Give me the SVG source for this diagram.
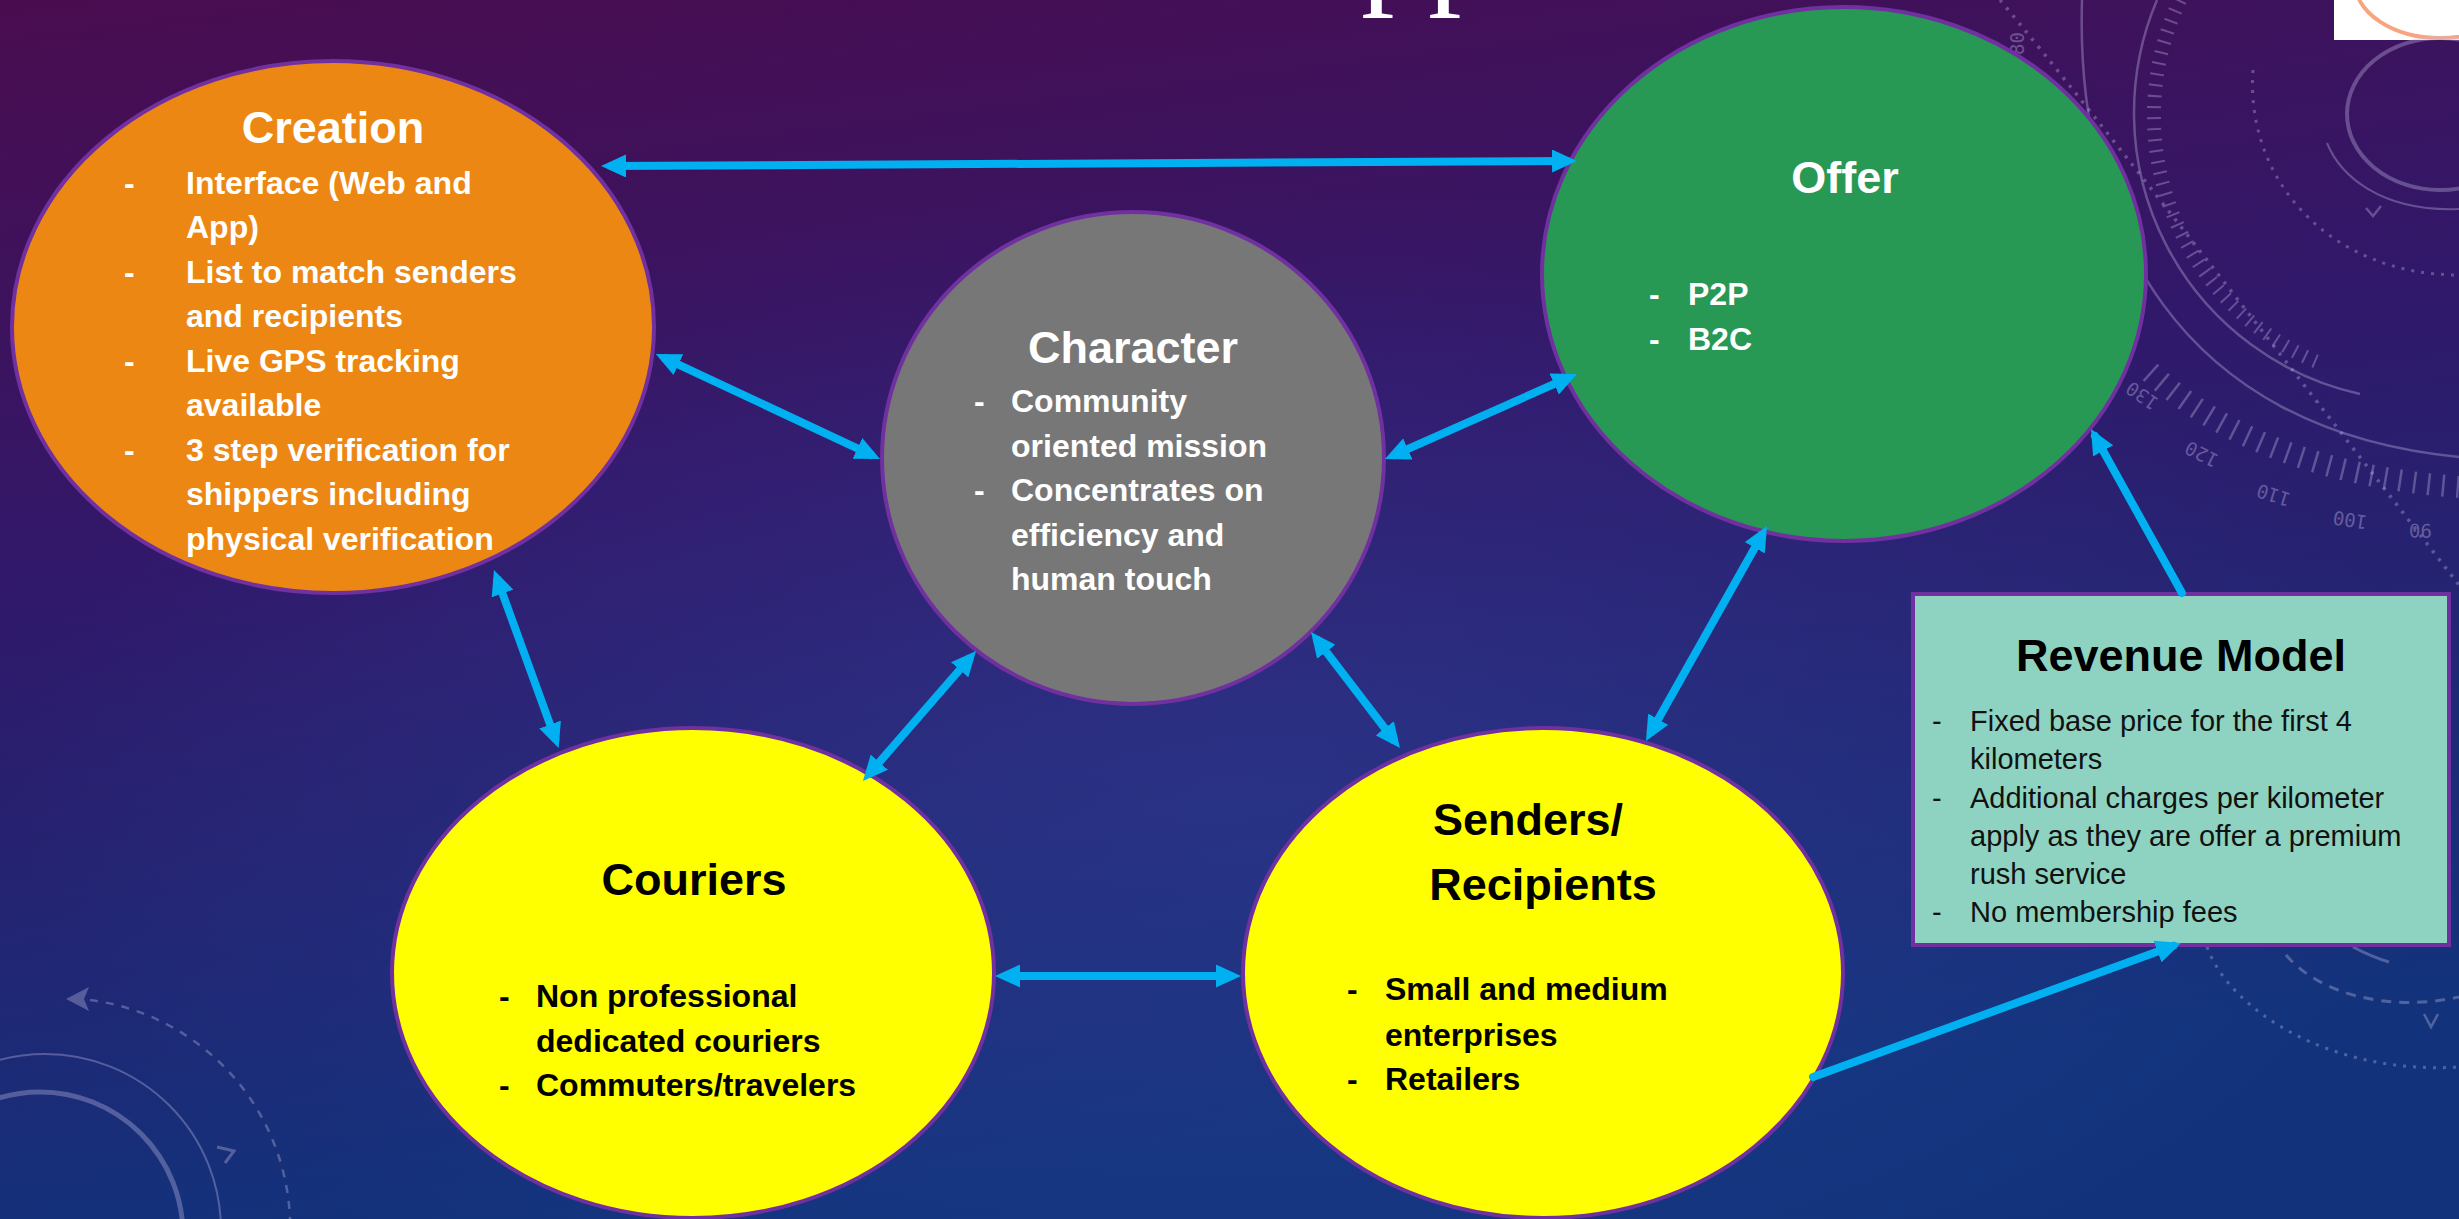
<svg xmlns="http://www.w3.org/2000/svg" width="2459" height="1219" viewBox="0 0 2459 1219">
  <defs>
    <linearGradient id="bg" x1="0" y1="0" x2="0.25" y2="1">
      <stop offset="0" stop-color="#4a0c4f"/>
      <stop offset="0.45" stop-color="#31186a"/>
      <stop offset="1" stop-color="#12337c"/>
    </linearGradient>
    <radialGradient id="glow" cx="0.5" cy="0.65" r="0.5">
      <stop offset="0" stop-color="#3a4aa8" stop-opacity="0.35"/>
      <stop offset="1" stop-color="#3a4aa8" stop-opacity="0"/>
    </radialGradient>
    <clipPath id="logoClip">
      <rect x="2334" y="0" width="125" height="40"/>
    </clipPath>
    <marker id="arrow" markerUnits="userSpaceOnUse" markerWidth="25" markerHeight="23" refX="17" refY="11.5" orient="auto-start-reverse">
      <path d="M0,0 L25,11.5 L0,23 z" fill="#00B0F0"/>
    </marker>
    <style>
      .node { stroke: #7030A0; stroke-width: 4; }
      .title { font-family: "Liberation Sans", Arial, sans-serif; font-weight: 700; font-size: 45px; text-anchor: middle; }
      .body { font-family: "Liberation Sans", Arial, sans-serif; font-weight: 700; font-size: 32px; }
      .reg { font-family: "Liberation Sans", Arial, sans-serif; font-weight: 400; font-size: 29px; fill: #111; }
      .w { fill: #ffffff; }
      .k { fill: #000000; }
      .conn { fill: none; stroke: #00B0F0; stroke-width: 8; }
      .deco { fill: none; stroke: #c4bce6; stroke-opacity: 0.35; }
      .num { font-family: "DejaVu Sans Mono", monospace; font-size: 19px; fill: #c4bce6; fill-opacity: 0.4; }
    </style>
  </defs>

  <!-- backdrop -->
  <rect x="0" y="0" width="2459" height="1219" fill="url(#bg)"/>
  <rect x="0" y="0" width="2459" height="1219" fill="url(#glow)"/>

  <!-- heading descenders cut by the top edge -->
  <text x="1361" y="-10" font-family="'Liberation Serif', 'Times New Roman', serif" font-size="134" fill="#ffffff">pp</text>

  <!-- logo corner -->
  <g id="logo">
    <rect x="2334" y="0" width="125" height="40" fill="#ffffff"/>
    <ellipse cx="2440" cy="-18" rx="85" ry="56" fill="none" stroke="#F7A47F" stroke-width="4" clip-path="url(#logoClip)"/>
  </g>

  <!-- dial ornaments, right side -->
  <g id="dial-right">
    <path class="deco" stroke-width="2.5" d="M2157,0 A288,288 0 0 0 2360,394"/>
    <path class="deco" stroke-width="14" stroke-dasharray="2 9" d="M2180,0 A268,268 0 0 0 2322,364"/>
    <path class="deco" stroke-width="2.5" d="M2082,0 C2075,230 2180,430 2459,457"/>
    <path class="deco" stroke-width="22" stroke-dasharray="2.5 12" d="M2150,372 Q2260,472 2459,487"/>
    <path class="deco" stroke-width="3" stroke-dasharray="3 7" d="M2253,70 C2245,180 2330,275 2459,275"/>
    <path class="deco" stroke-width="3.5" stroke-dasharray="3 7" d="M2000,0 C2100,120 2300,380 2459,585"/>
    <ellipse class="deco" stroke-width="4" cx="2440" cy="114" rx="93" ry="76"/>
    <path class="deco" stroke-width="2" d="M2327,143 C2340,175 2380,212 2459,209"/>
    <path class="deco" stroke-width="2.5" d="M2366,208 L2373,216 L2381,206"/>
    <text class="num" transform="translate(2160,400) rotate(215)">130</text>
    <text class="num" transform="translate(2220,456) rotate(207)">120</text>
    <text class="num" transform="translate(2292,494) rotate(198)">110</text>
    <text class="num" transform="translate(2368,516) rotate(189)">100</text>
    <text class="num" transform="translate(2432,524) rotate(181)">90</text>
    <text class="num" transform="translate(2024,55) rotate(-90)">80</text>
    <path class="deco" stroke-width="3" stroke-dasharray="10 8" d="M2286,955 C2320,995 2390,1012 2459,997"/>
    <path class="deco" stroke-width="3" stroke-dasharray="3 7" d="M2207,947 C2230,1010 2330,1075 2459,1067"/>
    <path class="deco" stroke-width="3" d="M2353,947 Q2372,957 2389,962"/>
    <path class="deco" stroke-width="2.5" d="M2424,1014 L2431,1027 L2438,1014"/>
  </g>

  <!-- dial ornaments, lower left -->
  <g id="dial-left">
    <circle class="deco" stroke-width="2" cx="45" cy="1230" r="176"/>
    <circle class="deco" stroke-width="5" cx="40" cy="1235" r="143"/>
    <path class="deco" stroke-width="2.5" stroke-dasharray="8 8" d="M90,1000 A230,230 0 0 1 290,1219"/>
    <path d="M66,999 L89,987 L84,999 L89,1011 z" fill="#c4bce6" fill-opacity="0.35"/>
    <path class="deco" stroke-width="3" d="M217,1147 L234,1151 L225,1163"/>
  </g>

  <!-- nodes -->
  <g id="node-creation">
    <ellipse class="node" cx="333" cy="327" rx="321" ry="266" fill="#ED8714"/>
    <text class="title w" x="333" y="143">Creation</text>
    <g class="body w">
      <text x="124" y="194">-</text>
      <text x="186" y="194">Interface (Web and</text>
      <text x="186" y="238">App)</text>
      <text x="124" y="283">-</text>
      <text x="186" y="283">List to match senders</text>
      <text x="186" y="327">and recipients</text>
      <text x="124" y="372">-</text>
      <text x="186" y="372">Live GPS tracking</text>
      <text x="186" y="416">available</text>
      <text x="124" y="461">-</text>
      <text x="186" y="461">3 step verification for</text>
      <text x="186" y="505">shippers including</text>
      <text x="186" y="550">physical verification</text>
    </g>
  </g>

  <g id="node-character">
    <ellipse class="node" cx="1133" cy="458" rx="251" ry="246" fill="#777777"/>
    <text class="title w" x="1133" y="363">Character</text>
    <g class="body w">
      <text x="974" y="412">-</text>
      <text x="1011" y="412">Community</text>
      <text x="1011" y="457">oriented mission</text>
      <text x="974" y="501">-</text>
      <text x="1011" y="501">Concentrates on</text>
      <text x="1011" y="546">efficiency and</text>
      <text x="1011" y="590">human touch</text>
    </g>
  </g>

  <g id="node-offer">
    <ellipse class="node" cx="1844" cy="274" rx="302" ry="267" fill="#289855"/>
    <text class="title w" x="1845" y="193">Offer</text>
    <g class="body w">
      <text x="1649" y="305">-</text>
      <text x="1688" y="305">P2P</text>
      <text x="1649" y="350">-</text>
      <text x="1688" y="350">B2C</text>
    </g>
  </g>

  <g id="node-couriers">
    <ellipse class="node" cx="693" cy="973" rx="301" ry="245" fill="#FFFF00"/>
    <text class="title k" x="694" y="895">Couriers</text>
    <g class="body k">
      <text x="499" y="1007">-</text>
      <text x="536" y="1007">Non professional</text>
      <text x="536" y="1052">dedicated couriers</text>
      <text x="499" y="1096">-</text>
      <text x="536" y="1096">Commuters/travelers</text>
    </g>
  </g>

  <g id="node-senders">
    <ellipse class="node" cx="1543" cy="973" rx="300" ry="245" fill="#FFFF00"/>
    <text class="title k" x="1528" y="835">Senders/</text>
    <text class="title k" x="1543" y="900">Recipients</text>
    <g class="body k">
      <text x="1347" y="1000">-</text>
      <text x="1385" y="1000">Small and medium</text>
      <text x="1385" y="1046">enterprises</text>
      <text x="1347" y="1090">-</text>
      <text x="1385" y="1090">Retailers</text>
    </g>
  </g>

  <g id="node-revenue">
    <rect class="node" x="1913" y="594" width="536" height="351" fill="#8ED3C1"/>
    <text class="title k" x="2181" y="671" font-size="42">Revenue Model</text>
    <g class="reg">
      <text x="1932" y="731">-</text>
      <text x="1970" y="731">Fixed base price for the first 4</text>
      <text x="1970" y="769">kilometers</text>
      <text x="1932" y="808">-</text>
      <text x="1970" y="808">Additional charges per kilometer</text>
      <text x="1970" y="846">apply as they are offer a premium</text>
      <text x="1970" y="884">rush service</text>
      <text x="1932" y="922">-</text>
      <text x="1970" y="922">No membership fees</text>
    </g>
  </g>

  <!-- connectors -->
  <g id="connectors">
    <line class="conn" x1="609" y1="166" x2="1569" y2="161" marker-start="url(#arrow)" marker-end="url(#arrow)"/>
    <line class="conn" x1="663" y1="357.4" x2="872.8" y2="455.6" marker-start="url(#arrow)" marker-end="url(#arrow)"/>
    <line class="conn" x1="1392.3" y1="455.8" x2="1569.7" y2="377.2" marker-start="url(#arrow)" marker-end="url(#arrow)"/>
    <line class="conn" x1="496.7" y1="577.5" x2="555.9" y2="740.5" marker-start="url(#arrow)" marker-end="url(#arrow)"/>
    <line class="conn" x1="970.8" y1="657" x2="868.2" y2="775" marker-start="url(#arrow)" marker-end="url(#arrow)"/>
    <line class="conn" x1="1315.9" y1="638.3" x2="1395.1" y2="741.7" marker-start="url(#arrow)" marker-end="url(#arrow)"/>
    <line class="conn" x1="1003" y1="976" x2="1233" y2="976" marker-start="url(#arrow)" marker-end="url(#arrow)"/>
    <line class="conn" x1="1763.1" y1="533" x2="1649.9" y2="734" marker-start="url(#arrow)" marker-end="url(#arrow)"/>
    <line class="conn" x1="2182" y1="593" x2="2094.9" y2="436" stroke-linecap="round" marker-end="url(#arrow)"/>
    <line class="conn" x1="1813" y1="1077" x2="2173.5" y2="945.7" stroke-linecap="round" marker-end="url(#arrow)"/>
  </g>
</svg>
